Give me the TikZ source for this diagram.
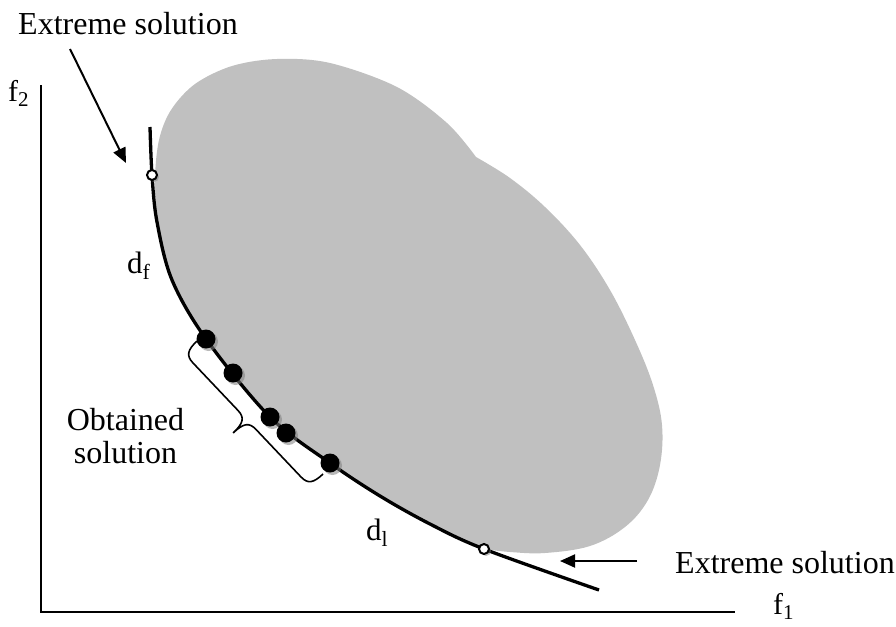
\documentclass[tikz,border=0pt]{standalone}
\usepackage{fontspec}
\setmainfont{Liberation Serif}
\usetikzlibrary{arrows.meta,shadows}
\definecolor{blobgray}{RGB}{192,192,192}
\begin{document}
\begin{tikzpicture}[x=1pt,y=-1pt,
  every node/.style={inner sep=0pt},
  bigtxt/.style={font=\fontsize{32}{33}\selectfont},
  axlbl/.style={font=\fontsize{30}{31}\selectfont},
  dlbl/.style={font=\fontsize{31}{32}\selectfont},
  arr/.style={line width=2pt,-{Triangle[length=15pt,width=13pt]}},
  axisline/.style={line width=2pt},
  front/.style={line width=3.3pt},
  bracestyle/.style={line width=1.6pt},
  soldot/.style={circle,fill=black,minimum size=19pt,
    drop shadow={shadow xshift=2.5pt,shadow yshift=-2.5pt,fill=gray,opacity=0.55}},
  extdot/.style={circle,draw=black,fill=white,line width=2pt,minimum size=10pt,
    drop shadow={shadow xshift=2pt,shadow yshift=-2pt,fill=gray,opacity=0.5}}]
\useasboundingbox (0,0) rectangle (896,626);

% feasible region
\fill[blobgray]
  plot[smooth,tension=0.55] coordinates {(484,549) (430,524) (380,496) (330,463)
    (270,417) (206,339) (172,280) (158,225) (155,180) (159,140) (171,110)
    (195,84) (232,66) (277,59) (330,63) (397,87) (447,123) (476,157)}
  -- plot[smooth,tension=0.6] coordinates {(476,157) (510,178) (545,207) (580,245)
    (610,290) (635,340) (653,385) (662,425) (660,465) (648,500) (625,527)
    (590,546) (545,553) (510,552) (484,549)}
  -- cycle;

% axes
\coordinate (ytop) at (41,85);
\coordinate (orig) at (41,612);
\coordinate (xend) at (735,612);
\draw[axisline] (ytop) -- (orig) -- (xend);
\node[axlbl,anchor=base west] (f2) at (8,101) {f\textsubscript{2}};
\node[axlbl,anchor=base west] (f1) at (773,614) {f\textsubscript{1}};

% Pareto front
\draw[front] plot[smooth,tension=0.55] coordinates {(150,127) (152,175) (157,222)
  (172,280) (206,339) (270,417) (330,463) (380,496) (430,524)
  (484,549) (599,590)};

% brace (drawn in a frame along the front)
\coordinate (br1) at (197,341);
\coordinate (br2) at (323,474);
\begin{scope}[shift={(br1)},x={(0.6878pt,-0.7260pt)},y={(-0.7260pt,-0.6878pt)}]
  \draw[bracestyle] (0,0) .. controls (0,13) and (3,18) .. (13,18)
    -- (78.6,18) .. controls (88.6,18) and (91.6,23) .. (91.6,37)
    .. controls (91.6,23) and (94.6,18) .. (104.6,18)
    -- (170.2,18) .. controls (180.2,18) and (183.2,13) .. (183.2,0);
\end{scope}

% obtained solutions
\node[soldot] (s1) at (206,339) {};
\node[soldot] (s2) at (233,373) {};
\node[soldot] (s3) at (270,417) {};
\node[soldot] (s4) at (286,433) {};
\node[soldot] (s5) at (330,463) {};

% extreme solutions
\node[extdot] (e1) at (152,175) {};
\node[extdot] (e2) at (484,549) {};

% labels
\node[bigtxt,anchor=base west] (ext1) at (18,35) {Extreme solution};
\node[bigtxt,anchor=base west] (ext2) at (675,573) {Extreme solution};
\node[bigtxt,anchor=north,align=center] (obt) at (125.5,408) {Obtained\\solution};
\node[dlbl,anchor=base west] (df) at (127,273) {d\textsubscript{f}};
\node[dlbl,anchor=base west] (dl) at (366,540) {d\textsubscript{l}};

% arrows
\coordinate (a1s) at (70,49);
\coordinate (a1e) at (126,163);
\draw[arr] (a1s) -- (a1e);
\coordinate (a2s) at (637,561);
\coordinate (a2e) at (560,561);
\draw[arr] (a2s) -- (a2e);
\end{tikzpicture}
\end{document}
